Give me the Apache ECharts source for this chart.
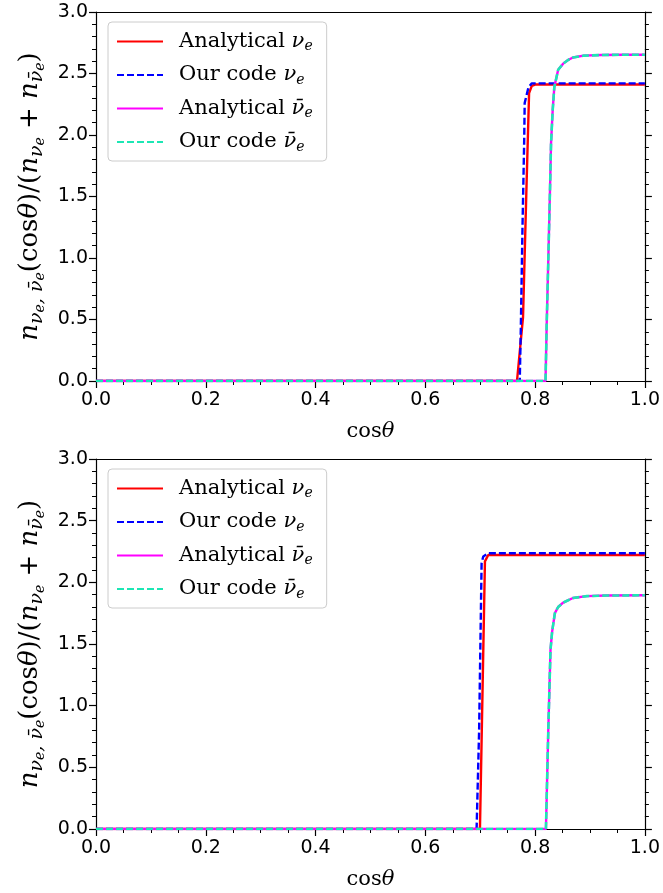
<!DOCTYPE html>
<html>
<head>
<meta charset="utf-8">
<script src="https://cdn.jsdelivr.net/npm/echarts@6/dist/echarts.min.js"></script>
<style>html,body{margin:0;padding:0;background:#fff;}#c{width:663px;height:893px;}</style>
</head>
<body>
<div id="c"></div>
<script>
// ---- Data: top panel ----
const topRedX  = [0, 0.767, 0.778, 0.784, 0.789, 0.794, 0.800, 1.0];
const topRedY  = [0, 0, 0.52, 1.53, 2.34, 2.40, 2.41, 2.41];
const topBlueX = [0, 0.772, 0.774, 0.777, 0.780, 0.781, 0.788, 0.794, 1.0];
const topBlueY = [0, 0, 0.44, 1.25, 1.93, 2.26, 2.39, 2.42, 2.42];
const topMagX  = [0, 0.819, 0.821, 0.824, 0.827, 0.829, 0.832, 0.835, 0.842, 0.851, 0.860, 0.869, 0.888, 0.920, 0.960, 1.0];
const topMagY  = [0, 0, 0.44, 0.98, 1.53, 1.93, 2.20, 2.39, 2.53, 2.58, 2.61, 2.63, 2.645, 2.650, 2.653, 2.653];
const topCyanX = [0, 0.819, 0.821, 0.824, 0.827, 0.829, 0.832, 0.835, 0.842, 0.851, 0.860, 0.869, 0.888, 0.920, 0.960, 1.0];
const topCyanY = [0, 0, 0.44, 0.98, 1.53, 1.93, 2.20, 2.39, 2.53, 2.58, 2.61, 2.63, 2.645, 2.650, 2.653, 2.653];
// ---- Data: bottom panel ----
const botRedX  = [0, 0.6995, 0.7086, 0.7146, 1.0];
const botRedY  = [0, 0, 2.17, 2.222, 2.222];
const botBlueX = [0, 0.6934, 0.698, 0.7025, 0.7055, 0.7146, 1.0];
const botBlueY = [0, 0, 0.80, 2.155, 2.21, 2.236, 2.236];
const botMagX  = [0, 0.8197, 0.824, 0.828, 0.831, 0.836, 0.842, 0.851, 0.869, 0.894, 0.930, 1.0];
const botMagY  = [0, 0, 0.80, 1.45, 1.60, 1.75, 1.80, 1.835, 1.873, 1.888, 1.893, 1.895];
const botCyanX = [0, 0.8197, 0.824, 0.828, 0.831, 0.836, 0.842, 0.851, 0.869, 0.894, 0.930, 1.0];
const botCyanY = [0, 0, 0.80, 1.45, 1.60, 1.75, 1.80, 1.835, 1.873, 1.888, 1.893, 1.895];
// ---- Axis ticks ----
const xTicks = [0.0, 0.2, 0.4, 0.6, 0.8, 1.0];
const yTicks = [0.0, 0.5, 1.0, 1.5, 2.0, 2.5, 3.0];
const seriesNames = ['Analytical νe', 'Our code νe', 'Analytical ν̄e', 'Our code ν̄e'];

const zip = (xs, ys) => xs.map((x, i) => [x, ys[i]]);
const C_RED = '#ff0000', C_BLUE = '#0000ff', C_MAG = '#ff00ff', C_CYAN = '#1de6b4';
const SERIF = 'DejaVu Serif', SANS = 'DejaVu Sans';

const grids = [
  {left: 96, right: 18, top: 12, height: 369},
  {left: 96, right: 18, top: 459, height: 370}
];

const xAxes = [], yAxes = [];
const yName = '{it|n}{sub|ν}{sub2|e}{sub|, ν̄}{sub2|e}{r|(cos}{it|θ}{r|)/(}{it|n}{sub|ν}{sub2|e}{r| + }{it|n}{sub|ν̄}{sub2|e}{r|)}';
const nameRich = {
  r: {fontFamily: SERIF, fontSize: 26, color: '#000', lineHeight: 34, verticalAlign: 'middle'},
  it: {fontFamily: SERIF, fontStyle: 'italic', fontSize: 26, color: '#000', lineHeight: 34, verticalAlign: 'middle'},
  sub: {fontFamily: SERIF, fontStyle: 'italic', fontSize: 19, color: '#000', verticalAlign: 'bottom', lineHeight: 20},
  sub2: {fontFamily: SERIF, fontStyle: 'italic', fontSize: 14, color: '#000', verticalAlign: 'bottom', lineHeight: 14}
};
const xNameRich = {
  r: {fontFamily: SERIF, fontSize: 21, color: '#000'},
  it: {fontFamily: SERIF, fontStyle: 'italic', fontSize: 21, color: '#000'}
};
for (let g = 0; g < 2; g++) {
  xAxes.push({
    type: 'value', gridIndex: g, min: xTicks[0], max: xTicks[xTicks.length - 1], interval: 0.2,
    position: 'bottom',
    axisLine: {show: true, onZero: false, lineStyle: {color: '#000', width: 1.2}},
    axisTick: {show: true, inside: false, length: 7, lineStyle: {color: '#000', width: 1.2}},
    minorTick: {show: true, splitNumber: 4, length: 4, lineStyle: {color: '#000', width: 1}},
    axisLabel: {fontFamily: SANS, fontSize: 19, color: '#000', margin: 10, formatter: v => v.toFixed(1)},
    splitLine: {show: false},
    name: '{r|cos}{it|θ}', nameLocation: 'middle', nameGap: 40,
    nameTextStyle: {rich: xNameRich}
  });
  xAxes.push({
    type: 'value', gridIndex: g, min: 0, max: 1, position: 'top',
    axisLine: {show: true, onZero: false, lineStyle: {color: '#000', width: 1.2}},
    axisTick: {show: false}, axisLabel: {show: false}, splitLine: {show: false}
  });
  yAxes.push({
    type: 'value', gridIndex: g, min: yTicks[0], max: yTicks[yTicks.length - 1], interval: 0.5,
    position: 'left',
    axisLine: {show: true, onZero: false, lineStyle: {color: '#000', width: 1.2}},
    axisTick: {show: true, inside: false, length: 7, lineStyle: {color: '#000', width: 1.2}},
    minorTick: {show: true, splitNumber: 5, length: 4, lineStyle: {color: '#000', width: 1}},
    axisLabel: {fontFamily: SANS, fontSize: 19, color: '#000', margin: 8, formatter: v => v.toFixed(1)},
    splitLine: {show: false},
    name: yName, nameLocation: 'middle', nameRotate: 90, nameGap: 43,
    nameTextStyle: {rich: nameRich}
  });
  yAxes.push({
    type: 'value', gridIndex: g, min: 0, max: 3, interval: 0.5, position: 'right',
    axisLine: {show: true, onZero: false, lineStyle: {color: '#000', width: 1.2}},
    axisTick: {show: true, inside: false, length: 7, lineStyle: {color: '#000', width: 1.2}},
    minorTick: {show: true, splitNumber: 5, length: 4, lineStyle: {color: '#000', width: 1}},
    axisLabel: {show: false}, splitLine: {show: false}
  });
}

function mk(name, data, g, color, dashed, width) {
  return {
    name, type: 'line', data, xAxisIndex: g * 2, yAxisIndex: g * 2,
    showSymbol: false, symbol: 'none', smooth: false, animation: false,
    lineStyle: {color, width, type: dashed ? [7, 3] : 'solid'},
    itemStyle: {color}
  };
}
const series = [
  mk(seriesNames[0], zip(topRedX, topRedY), 0, C_RED, false, 2.4),
  mk(seriesNames[1], zip(topBlueX, topBlueY), 0, C_BLUE, true, 2.4),
  mk(seriesNames[2], zip(topMagX, topMagY), 0, C_MAG, false, 2.4),
  mk(seriesNames[3], zip(topCyanX, topCyanY), 0, C_CYAN, true, 2.6),
  mk(seriesNames[0], zip(botRedX, botRedY), 1, C_RED, false, 2.4),
  mk(seriesNames[1], zip(botBlueX, botBlueY), 1, C_BLUE, true, 2.4),
  mk(seriesNames[2], zip(botMagX, botMagY), 1, C_MAG, false, 2.4),
  mk(seriesNames[3], zip(botCyanX, botCyanY), 1, C_CYAN, true, 2.6)
];

const legRich = {
  r: {fontFamily: SERIF, fontSize: 21, color: '#000', lineHeight: 24, padding: [0, 0, 0, 11]},
  it: {fontFamily: SERIF, fontStyle: 'italic', fontSize: 21, color: '#000', lineHeight: 24},
  sub: {fontFamily: SERIF, fontStyle: 'italic', fontSize: 14, color: '#000', verticalAlign: 'bottom', lineHeight: 18}
};
const legFmt = {};
legFmt[seriesNames[0]] = '{r|Analytical }{it|ν}{sub|e}';
legFmt[seriesNames[1]] = '{r|Our code }{it|ν}{sub|e}';
legFmt[seriesNames[2]] = '{r|Analytical }{it|ν̄}{sub|e}';
legFmt[seriesNames[3]] = '{r|Our code }{it|ν̄}{sub|e}';
function legend(top) {
  return {
    orient: 'vertical', left: 108, top, padding: [9, 14, 7, 8],
    itemWidth: 46, itemHeight: 14, itemGap: 11,
    borderColor: '#cccccc', borderWidth: 1, borderRadius: 4, backgroundColor: 'rgba(255,255,255,0.8)',
    selectedMode: false,
    itemStyle: {opacity: 0},
    data: seriesNames.slice(),
    formatter: n => legFmt[n],
    textStyle: {rich: legRich}
  };
}

const chart = echarts.init(document.getElementById('c'), null, {renderer: 'canvas'});
chart.setOption({
  backgroundColor: '#fff',
  animation: false,
  grid: grids,
  xAxis: xAxes,
  yAxis: yAxes,
  legend: [legend(22), legend(469)],
  series
});
</script>
</body>
</html>
